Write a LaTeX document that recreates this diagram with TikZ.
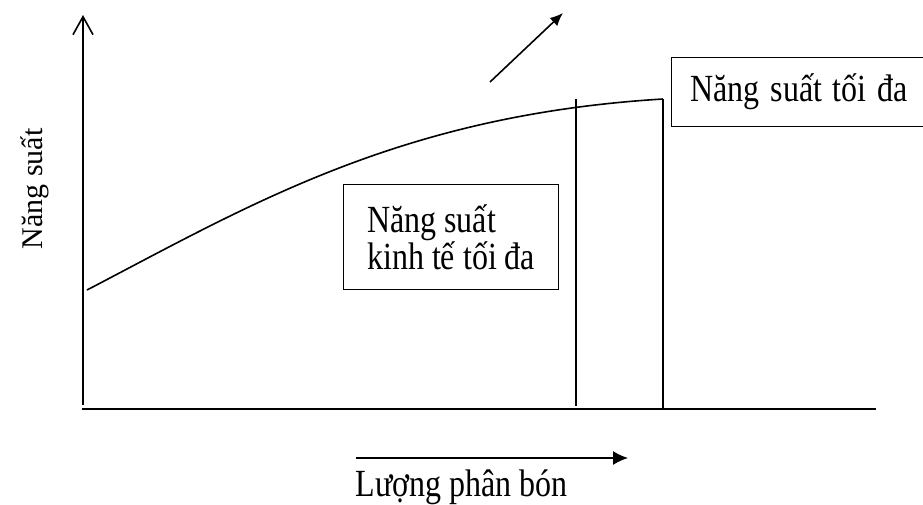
\documentclass[tikz,border=0pt]{standalone}
\usepackage{fontspec}
\setmainfont{Liberation Serif}
\usetikzlibrary{arrows.meta}
\newcommand{\tall}[1]{\scalebox{1}[1.2]{#1}}
\begin{document}
\begin{tikzpicture}[x=1pt,y=-1pt,line width=1.6pt,
  txt/.style={inner sep=0pt, font=\fontsize{32}{29}\selectfont},
  hop/.style={draw, line width=1.2pt, anchor=north west, align=left, inner xsep=19pt, inner ysep=0pt, font=\fontsize{32}{35}\selectfont}]
\clip (0,0) rectangle (923,504);
\coordinate (ax0) at (83,405);
\coordinate (ax1) at (83,15);
\coordinate (ax2) at (82,409);
\coordinate (ax3) at (876,409);
\draw[-{Straight Barb[length=18pt,width=20pt]}](ax0) -- (ax1);
\draw[](ax2) -- (ax3);
\coordinate (cv0) at (87,290);
\coordinate (cv1) at (663,99);
\draw[](cv0) .. controls (250,205) and (400,115) .. (cv1);
\coordinate (vl0) at (576,99);
\coordinate (vl1) at (576,406);
\coordinate (vl2) at (663,408);
\draw[](vl0) -- (vl1);
\draw[](cv1) -- (vl2);
\node[hop, minimum height=69pt, text width=260pt] (bx0) at (671,57){\tall{Năng suất tối đa}};
\node[hop, minimum height=105pt, minimum width=215pt, inner xsep=20pt] (bx1) at (343,184){\tall{Năng suất}\\\tall{kinh tế tối đa}};
\coordinate (ar0) at (490,82);
\coordinate (ar1) at (563,13);
\draw[-{Latex[length=13pt,width=11pt]}](ar0) -- (ar1);
\coordinate (ar2) at (356,458);
\coordinate (ar3) at (628,458);
\draw[-{Latex[length=15pt,width=14pt]}](ar2) -- (ar3);
\node[txt, anchor=base west] (lb0) at (355,496){\tall{Lượng phân bón}};
\node[txt, anchor=base, rotate=90, font=\fontsize{30}{30}\selectfont] (lb1) at (42,189){Năng suất};
\end{tikzpicture}
\end{document}
